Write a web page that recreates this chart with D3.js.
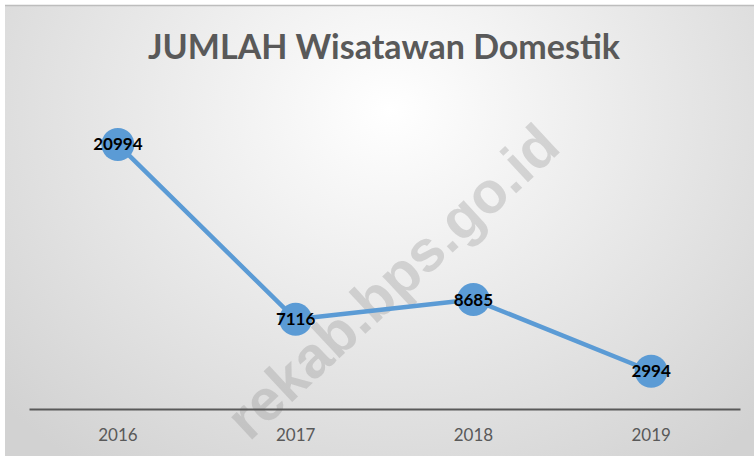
<!DOCTYPE html>
<html><head><meta charset="utf-8">
<script src="https://cdn.jsdelivr.net/npm/d3@7"></script>
<style>html,body{margin:0;padding:0;background:#fff;}svg{display:block;}</style>
</head><body>
<script>
const categories = ["2016", "2017", "2018", "2019"];
const values = [20994, 7116, 8685, 2994];
const title = "JUMLAH Wisatawan Domestik";
const watermark = "rekab.bps.go.id";

const W = 754, H = 456;
const svg = d3.select("body").append("svg").attr("width", W).attr("height", H);
const defs = svg.append("defs");
const grad = defs.append("radialGradient").attr("id", "bg")
  .attr("gradientUnits", "userSpaceOnUse")
  .attr("cx", 390).attr("cy", 110).attr("r", 520)
  .attr("gradientTransform", "translate(390,110) scale(1,0.85) translate(-390,-110)");
grad.append("stop").attr("offset", "0%").attr("stop-color", "#ffffff");
grad.append("stop").attr("offset", "100%").attr("stop-color", "#d2d2d2");

svg.append("rect").attr("x", 5).attr("y", 5).attr("width", W).attr("height", H).attr("fill", "url(#bg)");
svg.append("line").attr("x1", 5).attr("x2", W).attr("y1", 5.5).attr("y2", 5.5)
  .attr("stroke", "#bdbdbd").attr("stroke-width", 1.5);

const x = d3.scaleBand().domain(categories).range([29, 740]);
const y = d3.scaleLinear().domain([0, 25000]).range([409, 94]);

// watermark
svg.append("text")
  .attr("transform", "translate(392,281) rotate(-43)")
  .attr("text-anchor", "middle").attr("dominant-baseline", "central")
  .attr("font-family", "Liberation Sans, Arial, sans-serif").attr("font-weight", "bold")
  .attr("font-size", 58).attr("fill", "#8c8c8c").attr("fill-opacity", 0.3)
  .text(watermark);

// title
svg.append("text").attr("x", 384).attr("y", 59).attr("text-anchor", "middle")
  .attr("font-family", "Lato, 'Open Sans', sans-serif").attr("font-weight", "bold")
  .attr("font-size", 34).attr("fill", "#595959").text(title);

// axis
const xAxis = d3.axisBottom(x).tickSize(0).tickPadding(20);
const ax = svg.append("g").attr("transform", "translate(0,409)").call(xAxis);
ax.select(".domain").attr("stroke", "#595959").attr("stroke-width", 2.2);
ax.selectAll("text").attr("font-family", "Lato, 'Open Sans', sans-serif")
  .attr("font-size", 17).attr("fill", "#595959");

const pts = categories.map((c, i) => ({c, v: values[i]}));
const line = d3.line().x(d => x(d.c) + x.bandwidth() / 2).y(d => y(d.v));
svg.append("path").datum(pts).attr("d", line).attr("fill", "none")
  .attr("stroke", "#5b9bd5").attr("stroke-width", 4.5).attr("stroke-linejoin", "round");
svg.selectAll("circle.pt").data(pts).join("circle").attr("class", "pt")
  .attr("cx", d => x(d.c) + x.bandwidth() / 2).attr("cy", d => y(d.v)).attr("r", 16.5)
  .attr("fill", "#5b9bd5");
svg.selectAll("text.lbl").data(pts).join("text").attr("class", "lbl")
  .attr("x", d => x(d.c) + x.bandwidth() / 2).attr("y", d => y(d.v) + 6)
  .attr("text-anchor", "middle")
  .attr("font-family", "Lato, 'Open Sans', sans-serif").attr("font-weight", "bold")
  .attr("font-size", 17).attr("fill", "#000").text(d => d.v);
</script>
</body></html>
